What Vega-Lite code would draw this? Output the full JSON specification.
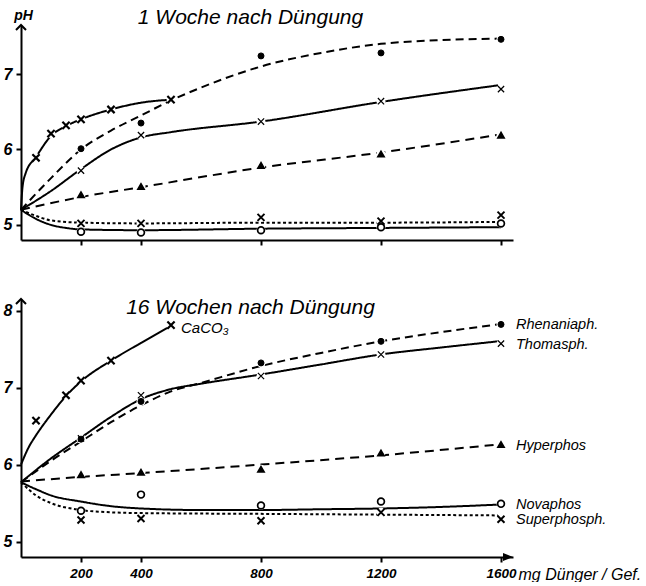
{
  "$schema": "https://vega.github.io/schema/vega-lite/v6.json",
  "padding": {"left": 3, "top": 7, "right": 0, "bottom": 0},
  "spacing": 49,
  "config": {
    "view": {"stroke": null},
    "font": "Liberation Sans",
    "axis": {"grid": false, "domainColor": "black", "tickColor": "black", "labelColor": "black", "titleColor": "black", "domainWidth": 2, "tickWidth": 2, "tickSize": 5, "labelFont": "Liberation Sans", "titleFont": "Liberation Sans", "labelFontStyle": "italic", "labelFontWeight": "bold", "format": "d"}
  },
  "datasets": {
    "curves": [
      {"p": "W1", "s": "Rhenaniaph.", "mg": 0, "pH": 5.2},
      {"p": "W1", "s": "Rhenaniaph.", "mg": 100, "pH": 5.62},
      {"p": "W1", "s": "Rhenaniaph.", "mg": 200, "pH": 6.0},
      {"p": "W1", "s": "Rhenaniaph.", "mg": 300, "pH": 6.25},
      {"p": "W1", "s": "Rhenaniaph.", "mg": 400, "pH": 6.45},
      {"p": "W1", "s": "Rhenaniaph.", "mg": 500, "pH": 6.65},
      {"p": "W1", "s": "Rhenaniaph.", "mg": 600, "pH": 6.82},
      {"p": "W1", "s": "Rhenaniaph.", "mg": 800, "pH": 7.1},
      {"p": "W1", "s": "Rhenaniaph.", "mg": 1000, "pH": 7.28},
      {"p": "W1", "s": "Rhenaniaph.", "mg": 1200, "pH": 7.4},
      {"p": "W1", "s": "Rhenaniaph.", "mg": 1400, "pH": 7.45},
      {"p": "W1", "s": "Rhenaniaph.", "mg": 1600, "pH": 7.47},
      {"p": "W1", "s": "Thomasph.", "mg": 0, "pH": 5.2},
      {"p": "W1", "s": "Thomasph.", "mg": 100, "pH": 5.45},
      {"p": "W1", "s": "Thomasph.", "mg": 200, "pH": 5.74},
      {"p": "W1", "s": "Thomasph.", "mg": 300, "pH": 6.0},
      {"p": "W1", "s": "Thomasph.", "mg": 400, "pH": 6.16},
      {"p": "W1", "s": "Thomasph.", "mg": 500, "pH": 6.23},
      {"p": "W1", "s": "Thomasph.", "mg": 800, "pH": 6.37},
      {"p": "W1", "s": "Thomasph.", "mg": 1200, "pH": 6.63},
      {"p": "W1", "s": "Thomasph.", "mg": 1590, "pH": 6.85},
      {"p": "W1", "s": "Hyperphos", "mg": 0, "pH": 5.2},
      {"p": "W1", "s": "Hyperphos", "mg": 200, "pH": 5.37},
      {"p": "W1", "s": "Hyperphos", "mg": 400, "pH": 5.5},
      {"p": "W1", "s": "Hyperphos", "mg": 800, "pH": 5.76},
      {"p": "W1", "s": "Hyperphos", "mg": 1200, "pH": 5.96},
      {"p": "W1", "s": "Hyperphos", "mg": 1600, "pH": 6.2},
      {"p": "W1", "s": "Novaphos", "mg": 0, "pH": 5.2},
      {"p": "W1", "s": "Novaphos", "mg": 50, "pH": 5.08},
      {"p": "W1", "s": "Novaphos", "mg": 100, "pH": 5.0},
      {"p": "W1", "s": "Novaphos", "mg": 150, "pH": 4.96},
      {"p": "W1", "s": "Novaphos", "mg": 200, "pH": 4.94},
      {"p": "W1", "s": "Novaphos", "mg": 400, "pH": 4.93},
      {"p": "W1", "s": "Novaphos", "mg": 800, "pH": 4.95},
      {"p": "W1", "s": "Novaphos", "mg": 1200, "pH": 4.96},
      {"p": "W1", "s": "Novaphos", "mg": 1600, "pH": 4.97},
      {"p": "W1", "s": "Superphosph.", "mg": 0, "pH": 5.2},
      {"p": "W1", "s": "Superphosph.", "mg": 50, "pH": 5.12},
      {"p": "W1", "s": "Superphosph.", "mg": 100, "pH": 5.06},
      {"p": "W1", "s": "Superphosph.", "mg": 200, "pH": 5.03},
      {"p": "W1", "s": "Superphosph.", "mg": 400, "pH": 5.02},
      {"p": "W1", "s": "Superphosph.", "mg": 800, "pH": 5.03},
      {"p": "W1", "s": "Superphosph.", "mg": 1200, "pH": 5.03},
      {"p": "W1", "s": "Superphosph.", "mg": 1600, "pH": 5.04},
      {"p": "W1", "s": "CaCO₃", "mg": 0, "pH": 5.2},
      {"p": "W1", "s": "CaCO₃", "mg": 5, "pH": 5.5},
      {"p": "W1", "s": "CaCO₃", "mg": 15, "pH": 5.68},
      {"p": "W1", "s": "CaCO₃", "mg": 50, "pH": 5.9},
      {"p": "W1", "s": "CaCO₃", "mg": 100, "pH": 6.18},
      {"p": "W1", "s": "CaCO₃", "mg": 150, "pH": 6.31},
      {"p": "W1", "s": "CaCO₃", "mg": 200, "pH": 6.4},
      {"p": "W1", "s": "CaCO₃", "mg": 300, "pH": 6.53},
      {"p": "W1", "s": "CaCO₃", "mg": 400, "pH": 6.62},
      {"p": "W1", "s": "CaCO₃", "mg": 500, "pH": 6.66},
      {"p": "W16", "s": "CaCO₃", "mg": 0, "pH": 6.0},
      {"p": "W16", "s": "CaCO₃", "mg": 25, "pH": 6.22},
      {"p": "W16", "s": "CaCO₃", "mg": 50, "pH": 6.38},
      {"p": "W16", "s": "CaCO₃", "mg": 75, "pH": 6.52},
      {"p": "W16", "s": "CaCO₃", "mg": 100, "pH": 6.65},
      {"p": "W16", "s": "CaCO₃", "mg": 150, "pH": 6.89},
      {"p": "W16", "s": "CaCO₃", "mg": 200, "pH": 7.08},
      {"p": "W16", "s": "CaCO₃", "mg": 300, "pH": 7.35},
      {"p": "W16", "s": "CaCO₃", "mg": 400, "pH": 7.58},
      {"p": "W16", "s": "CaCO₃", "mg": 500, "pH": 7.8},
      {"p": "W16", "s": "Rhenaniaph.", "mg": 0, "pH": 5.77},
      {"p": "W16", "s": "Rhenaniaph.", "mg": 100, "pH": 6.05},
      {"p": "W16", "s": "Rhenaniaph.", "mg": 200, "pH": 6.3},
      {"p": "W16", "s": "Rhenaniaph.", "mg": 300, "pH": 6.55},
      {"p": "W16", "s": "Rhenaniaph.", "mg": 400, "pH": 6.77},
      {"p": "W16", "s": "Rhenaniaph.", "mg": 500, "pH": 6.95},
      {"p": "W16", "s": "Rhenaniaph.", "mg": 600, "pH": 7.06},
      {"p": "W16", "s": "Rhenaniaph.", "mg": 800, "pH": 7.28},
      {"p": "W16", "s": "Rhenaniaph.", "mg": 1000, "pH": 7.45},
      {"p": "W16", "s": "Rhenaniaph.", "mg": 1200, "pH": 7.6},
      {"p": "W16", "s": "Rhenaniaph.", "mg": 1400, "pH": 7.72},
      {"p": "W16", "s": "Rhenaniaph.", "mg": 1590, "pH": 7.82},
      {"p": "W16", "s": "Thomasph.", "mg": 0, "pH": 5.77},
      {"p": "W16", "s": "Thomasph.", "mg": 100, "pH": 6.08},
      {"p": "W16", "s": "Thomasph.", "mg": 200, "pH": 6.35},
      {"p": "W16", "s": "Thomasph.", "mg": 300, "pH": 6.62},
      {"p": "W16", "s": "Thomasph.", "mg": 400, "pH": 6.85},
      {"p": "W16", "s": "Thomasph.", "mg": 500, "pH": 6.98},
      {"p": "W16", "s": "Thomasph.", "mg": 600, "pH": 7.05},
      {"p": "W16", "s": "Thomasph.", "mg": 800, "pH": 7.17},
      {"p": "W16", "s": "Thomasph.", "mg": 1000, "pH": 7.3},
      {"p": "W16", "s": "Thomasph.", "mg": 1200, "pH": 7.43},
      {"p": "W16", "s": "Thomasph.", "mg": 1400, "pH": 7.52},
      {"p": "W16", "s": "Thomasph.", "mg": 1590, "pH": 7.6},
      {"p": "W16", "s": "Hyperphos", "mg": 0, "pH": 5.78},
      {"p": "W16", "s": "Hyperphos", "mg": 200, "pH": 5.84},
      {"p": "W16", "s": "Hyperphos", "mg": 400, "pH": 5.89},
      {"p": "W16", "s": "Hyperphos", "mg": 800, "pH": 6.0},
      {"p": "W16", "s": "Hyperphos", "mg": 1200, "pH": 6.12},
      {"p": "W16", "s": "Hyperphos", "mg": 1590, "pH": 6.26},
      {"p": "W16", "s": "Novaphos", "mg": 0, "pH": 5.77},
      {"p": "W16", "s": "Novaphos", "mg": 50, "pH": 5.68},
      {"p": "W16", "s": "Novaphos", "mg": 100, "pH": 5.6},
      {"p": "W16", "s": "Novaphos", "mg": 200, "pH": 5.52},
      {"p": "W16", "s": "Novaphos", "mg": 300, "pH": 5.46},
      {"p": "W16", "s": "Novaphos", "mg": 400, "pH": 5.43},
      {"p": "W16", "s": "Novaphos", "mg": 600, "pH": 5.41},
      {"p": "W16", "s": "Novaphos", "mg": 800, "pH": 5.41},
      {"p": "W16", "s": "Novaphos", "mg": 1000, "pH": 5.42},
      {"p": "W16", "s": "Novaphos", "mg": 1200, "pH": 5.43},
      {"p": "W16", "s": "Novaphos", "mg": 1400, "pH": 5.45},
      {"p": "W16", "s": "Novaphos", "mg": 1590, "pH": 5.48},
      {"p": "W16", "s": "Superphosph.", "mg": 0, "pH": 5.77},
      {"p": "W16", "s": "Superphosph.", "mg": 50, "pH": 5.6},
      {"p": "W16", "s": "Superphosph.", "mg": 100, "pH": 5.5},
      {"p": "W16", "s": "Superphosph.", "mg": 200, "pH": 5.41},
      {"p": "W16", "s": "Superphosph.", "mg": 300, "pH": 5.38},
      {"p": "W16", "s": "Superphosph.", "mg": 400, "pH": 5.37},
      {"p": "W16", "s": "Superphosph.", "mg": 800, "pH": 5.36},
      {"p": "W16", "s": "Superphosph.", "mg": 1200, "pH": 5.35},
      {"p": "W16", "s": "Superphosph.", "mg": 1590, "pH": 5.34}
    ],
    "points": [
      {"p": "W1", "s": "Rhenaniaph.", "mg": 200, "pH": 6.01},
      {"p": "W1", "s": "Rhenaniaph.", "mg": 400, "pH": 6.35},
      {"p": "W1", "s": "Rhenaniaph.", "mg": 800, "pH": 7.24},
      {"p": "W1", "s": "Rhenaniaph.", "mg": 1200, "pH": 7.28},
      {"p": "W1", "s": "Rhenaniaph.", "mg": 1600, "pH": 7.46},
      {"p": "W1", "s": "Thomasph.", "mg": 200, "pH": 5.72},
      {"p": "W1", "s": "Thomasph.", "mg": 400, "pH": 6.19},
      {"p": "W1", "s": "Thomasph.", "mg": 800, "pH": 6.37},
      {"p": "W1", "s": "Thomasph.", "mg": 1200, "pH": 6.64},
      {"p": "W1", "s": "Thomasph.", "mg": 1600, "pH": 6.8},
      {"p": "W1", "s": "Hyperphos", "mg": 200, "pH": 5.4},
      {"p": "W1", "s": "Hyperphos", "mg": 400, "pH": 5.51},
      {"p": "W1", "s": "Hyperphos", "mg": 800, "pH": 5.79},
      {"p": "W1", "s": "Hyperphos", "mg": 1200, "pH": 5.94},
      {"p": "W1", "s": "Hyperphos", "mg": 1600, "pH": 6.19},
      {"p": "W1", "s": "Novaphos", "mg": 200, "pH": 4.91},
      {"p": "W1", "s": "Novaphos", "mg": 400, "pH": 4.9},
      {"p": "W1", "s": "Novaphos", "mg": 800, "pH": 4.93},
      {"p": "W1", "s": "Novaphos", "mg": 1200, "pH": 4.97},
      {"p": "W1", "s": "Novaphos", "mg": 1600, "pH": 5.02},
      {"p": "W1", "s": "Superphosph.", "mg": 200, "pH": 5.02},
      {"p": "W1", "s": "Superphosph.", "mg": 400, "pH": 5.02},
      {"p": "W1", "s": "Superphosph.", "mg": 800, "pH": 5.1},
      {"p": "W1", "s": "Superphosph.", "mg": 1200, "pH": 5.05},
      {"p": "W1", "s": "Superphosph.", "mg": 1600, "pH": 5.13},
      {"p": "W1", "s": "CaCO₃", "mg": 50, "pH": 5.89},
      {"p": "W1", "s": "CaCO₃", "mg": 100, "pH": 6.21},
      {"p": "W1", "s": "CaCO₃", "mg": 150, "pH": 6.32},
      {"p": "W1", "s": "CaCO₃", "mg": 200, "pH": 6.4},
      {"p": "W1", "s": "CaCO₃", "mg": 300, "pH": 6.53},
      {"p": "W1", "s": "CaCO₃", "mg": 500, "pH": 6.66},
      {"p": "W16", "s": "CaCO₃", "mg": 50, "pH": 6.57},
      {"p": "W16", "s": "CaCO₃", "mg": 150, "pH": 6.9},
      {"p": "W16", "s": "CaCO₃", "mg": 200, "pH": 7.09},
      {"p": "W16", "s": "CaCO₃", "mg": 300, "pH": 7.35},
      {"p": "W16", "s": "CaCO₃", "mg": 500, "pH": 7.81},
      {"p": "W16", "s": "Rhenaniaph.", "mg": 200, "pH": 6.33},
      {"p": "W16", "s": "Rhenaniaph.", "mg": 400, "pH": 6.82},
      {"p": "W16", "s": "Rhenaniaph.", "mg": 800, "pH": 7.32},
      {"p": "W16", "s": "Rhenaniaph.", "mg": 1200, "pH": 7.6},
      {"p": "W16", "s": "Rhenaniaph.", "mg": 1600, "pH": 7.82},
      {"p": "W16", "s": "Thomasph.", "mg": 200, "pH": 6.34},
      {"p": "W16", "s": "Thomasph.", "mg": 400, "pH": 6.9},
      {"p": "W16", "s": "Thomasph.", "mg": 800, "pH": 7.15},
      {"p": "W16", "s": "Thomasph.", "mg": 1200, "pH": 7.43},
      {"p": "W16", "s": "Thomasph.", "mg": 1600, "pH": 7.57},
      {"p": "W16", "s": "Hyperphos", "mg": 200, "pH": 5.87},
      {"p": "W16", "s": "Hyperphos", "mg": 400, "pH": 5.9},
      {"p": "W16", "s": "Hyperphos", "mg": 800, "pH": 5.94},
      {"p": "W16", "s": "Hyperphos", "mg": 1200, "pH": 6.15},
      {"p": "W16", "s": "Hyperphos", "mg": 1600, "pH": 6.26},
      {"p": "W16", "s": "Novaphos", "mg": 200, "pH": 5.4},
      {"p": "W16", "s": "Novaphos", "mg": 400, "pH": 5.61},
      {"p": "W16", "s": "Novaphos", "mg": 800, "pH": 5.47},
      {"p": "W16", "s": "Novaphos", "mg": 1200, "pH": 5.52},
      {"p": "W16", "s": "Novaphos", "mg": 1600, "pH": 5.49},
      {"p": "W16", "s": "Superphosph.", "mg": 200, "pH": 5.28},
      {"p": "W16", "s": "Superphosph.", "mg": 400, "pH": 5.3},
      {"p": "W16", "s": "Superphosph.", "mg": 800, "pH": 5.27},
      {"p": "W16", "s": "Superphosph.", "mg": 1200, "pH": 5.38},
      {"p": "W16", "s": "Superphosph.", "mg": 1600, "pH": 5.29}
    ]
  },
  "vconcat": [
    {
      "width": 492,
      "height": 215,
      "layer": [
        {
          "data": {"name": "curves"},
          "transform": [{"filter": "datum.p == 'W1'"}],
          "mark": {"type": "line", "color": "black", "strokeWidth": 2, "interpolate": "monotone"},
          "encoding": {
            "x": {"field": "mg", "type": "quantitative", "scale": {"domain": [0, 1640], "nice": false, "zero": false},
                  "axis": {"values": [200, 400, 800, 1200, 1600], "labels": false, "title": null}},
            "y": {"field": "pH", "type": "quantitative", "scale": {"domain": [4.8, 7.65], "nice": false, "zero": false},
                  "axis": {"values": [5, 6, 7], "format": "d", "labelFontSize": 16, "labelPadding": 4, "title": "pH", "titleAngle": 0, "titleX": 2, "titleY": -6, "titleAlign": "center", "titleBaseline": "alphabetic", "titleFontSize": 14, "titleFontStyle": "italic", "titleFontWeight": "bold"}},
            "detail": {"field": "s"},
            "strokeDash": {"field": "s", "type": "nominal", "legend": null,
                  "scale": {"domain": ["Rhenaniaph.", "Thomasph.", "Hyperphos", "Novaphos", "Superphosph.", "CaCO₃"], "range": [[8, 5], [1, 0], [9, 6], [1, 0], [3, 2.5], [1, 0]]}}
          }
        },
        {
          "data": {"name": "points"},
          "transform": [{"filter": "datum.p == 'W1'"}],
          "mark": {"type": "point", "shape": "circle", "filled": true, "color": "white", "opacity": 1, "size": 80},
          "encoding": {
            "x": {"field": "mg", "type": "quantitative"},
            "y": {"field": "pH", "type": "quantitative"}
          }
        },
        {
          "data": {"name": "points"},
          "transform": [{"filter": "datum.p == 'W1'"}],
          "mark": {"type": "point", "filled": true, "stroke": "black", "opacity": 1},
          "encoding": {
            "x": {"field": "mg", "type": "quantitative"},
            "y": {"field": "pH", "type": "quantitative"},
            "shape": {"field": "s", "type": "nominal", "legend": null,
                  "scale": {"domain": ["Rhenaniaph.", "Thomasph.", "Hyperphos", "Novaphos", "Superphosph.", "CaCO₃"], "range": ["circle", "M-1,-1L1,1M-1,1L1,-1", "triangle-up", "circle", "M-1,-1L1,1M-1,1L1,-1", "M-1,-1L1,1M-1,1L1,-1"]}},
            "fill": {"field": "s", "type": "nominal", "legend": null,
                  "scale": {"domain": ["Rhenaniaph.", "Thomasph.", "Hyperphos", "Novaphos", "Superphosph.", "CaCO₃"], "range": ["black", "transparent", "black", "white", "transparent", "transparent"]}},
            "size": {"field": "s", "type": "nominal", "legend": null,
                  "scale": {"domain": ["Rhenaniaph.", "Thomasph.", "Hyperphos", "Novaphos", "Superphosph.", "CaCO₃"], "range": [36, 52, 70, 38, 52, 52]}},
            "strokeWidth": {"field": "s", "type": "nominal", "legend": null,
                  "scale": {"domain": ["Rhenaniaph.", "Thomasph.", "Hyperphos", "Novaphos", "Superphosph.", "CaCO₃"], "range": [1, 2.2, 1, 1.7, 2.2, 2.2]}}
          }
        },
        {
          "data": {"values": [{}]},
          "mark": {"type": "text", "align": "center", "baseline": "alphabetic", "fontSize": 21, "fontStyle": "italic", "font": "Liberation Sans", "color": "black"},
          "encoding": {
            "x": {"datum": 765, "type": "quantitative"},
            "y": {"datum": 7.66, "type": "quantitative"},
            "text": {"value": "1 Woche nach Düngung"}
          }
        },
        {
          "data": {"values": [{}]},
          "mark": {"type": "point", "shape": "M-1,1L0,0L1,1", "size": 100, "filled": false, "color": "black", "strokeWidth": 2, "opacity": 1},
          "encoding": {
            "x": {"datum": 0, "type": "quantitative"},
            "y": {"datum": 7.65, "type": "quantitative"}
          }
        }
      ]
    },
    {
      "width": 492,
      "height": 258,
      "layer": [
        {
          "data": {"name": "curves"},
          "transform": [{"filter": "datum.p == 'W16'"}],
          "mark": {"type": "line", "color": "black", "strokeWidth": 2, "interpolate": "monotone"},
          "encoding": {
            "x": {"field": "mg", "type": "quantitative", "scale": {"domain": [0, 1640], "nice": false, "zero": false},
                  "axis": {"values": [200, 400, 800, 1200, 1600], "format": "d", "labelFontSize": 13.5, "labelPadding": 4, "title": "mg Dünger / Gef.", "titleX": 497, "titleY": 22, "titleAlign": "left", "titleBaseline": "alphabetic", "titleAngle": 0, "titleFontSize": 16, "titleFontStyle": "italic", "titleFontWeight": "normal"}},
            "y": {"field": "pH", "type": "quantitative", "scale": {"domain": [4.8, 8.15], "nice": false, "zero": false},
                  "axis": {"values": [5, 6, 7, 8], "format": "d", "labelFontSize": 16, "labelPadding": 4, "title": null}},
            "detail": {"field": "s"},
            "strokeDash": {"field": "s", "type": "nominal", "legend": null,
                  "scale": {"domain": ["Rhenaniaph.", "Thomasph.", "Hyperphos", "Novaphos", "Superphosph.", "CaCO₃"], "range": [[8, 5], [1, 0], [9, 6], [1, 0], [3, 2.5], [1, 0]]}}
          }
        },
        {
          "data": {"name": "points"},
          "transform": [{"filter": "datum.p == 'W16'"}],
          "mark": {"type": "point", "shape": "circle", "filled": true, "color": "white", "opacity": 1, "size": 80},
          "encoding": {
            "x": {"field": "mg", "type": "quantitative"},
            "y": {"field": "pH", "type": "quantitative"}
          }
        },
        {
          "data": {"name": "points"},
          "transform": [{"filter": "datum.p == 'W16'"}],
          "mark": {"type": "point", "filled": true, "stroke": "black", "opacity": 1},
          "encoding": {
            "x": {"field": "mg", "type": "quantitative"},
            "y": {"field": "pH", "type": "quantitative"},
            "shape": {"field": "s", "type": "nominal", "legend": null,
                  "scale": {"domain": ["Rhenaniaph.", "Thomasph.", "Hyperphos", "Novaphos", "Superphosph.", "CaCO₃"], "range": ["circle", "M-1,-1L1,1M-1,1L1,-1", "triangle-up", "circle", "M-1,-1L1,1M-1,1L1,-1", "M-1,-1L1,1M-1,1L1,-1"]}},
            "fill": {"field": "s", "type": "nominal", "legend": null,
                  "scale": {"domain": ["Rhenaniaph.", "Thomasph.", "Hyperphos", "Novaphos", "Superphosph.", "CaCO₃"], "range": ["black", "transparent", "black", "white", "transparent", "transparent"]}},
            "size": {"field": "s", "type": "nominal", "legend": null,
                  "scale": {"domain": ["Rhenaniaph.", "Thomasph.", "Hyperphos", "Novaphos", "Superphosph.", "CaCO₃"], "range": [36, 52, 70, 38, 52, 52]}},
            "strokeWidth": {"field": "s", "type": "nominal", "legend": null,
                  "scale": {"domain": ["Rhenaniaph.", "Thomasph.", "Hyperphos", "Novaphos", "Superphosph.", "CaCO₃"], "range": [1, 2.2, 1, 1.7, 2.2, 2.2]}}
          }
        },
        {
          "data": {"name": "points"},
          "transform": [{"filter": "datum.p == 'W16' && datum.mg == 1600"}],
          "mark": {"type": "text", "align": "left", "baseline": "middle", "dx": 15, "dy": 1, "fontSize": 14.5, "fontStyle": "italic", "font": "Liberation Sans", "color": "black"},
          "encoding": {
            "x": {"field": "mg", "type": "quantitative"},
            "y": {"field": "pH", "type": "quantitative"},
            "text": {"field": "s"}
          }
        },
        {
          "data": {"name": "points"},
          "transform": [{"filter": "datum.p == 'W16' && datum.s == 'CaCO₃' && datum.mg == 500"}],
          "mark": {"type": "text", "align": "left", "baseline": "middle", "dx": 10, "dy": 3, "fontSize": 15, "fontStyle": "italic", "font": "Liberation Sans", "color": "black"},
          "encoding": {
            "x": {"field": "mg", "type": "quantitative"},
            "y": {"field": "pH", "type": "quantitative"},
            "text": {"field": "s"}
          }
        },
        {
          "data": {"values": [{}]},
          "mark": {"type": "text", "align": "center", "baseline": "alphabetic", "fontSize": 21, "fontStyle": "italic", "font": "Liberation Sans", "color": "black"},
          "encoding": {
            "x": {"datum": 765, "type": "quantitative"},
            "y": {"datum": 7.96, "type": "quantitative"},
            "text": {"value": "16 Wochen nach Düngung"}
          }
        },
        {
          "data": {"values": [{}]},
          "mark": {"type": "point", "shape": "M-1,1L0,0L1,1", "size": 100, "filled": false, "color": "black", "strokeWidth": 2, "opacity": 1},
          "encoding": {
            "x": {"datum": 0, "type": "quantitative"},
            "y": {"datum": 8.15, "type": "quantitative"}
          }
        },
        {
          "data": {"values": [{}]},
          "mark": {"type": "point", "shape": "M-1,-0.4L0,0L-1,0.4Z", "size": 400, "filled": true, "color": "black", "opacity": 1},
          "encoding": {
            "x": {"datum": 1640, "type": "quantitative"},
            "y": {"datum": 4.8, "type": "quantitative"}
          }
        }
      ]
    }
  ]
}
